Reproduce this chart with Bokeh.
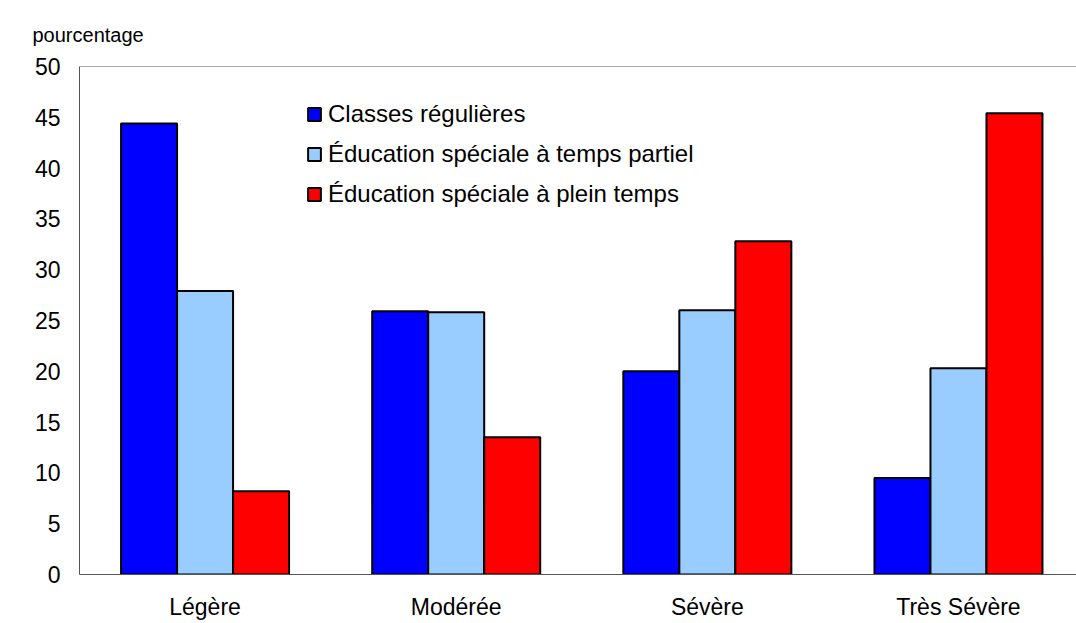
from bokeh.plotting import figure
from bokeh.models import Range1d, FixedTicker, SingleIntervalTicker, Legend, LegendItem, Title, Span
from bokeh.embed import file_html
from bokeh.resources import INLINE

categories = ["Légère", "Modérée", "Sévère", "Très Sévère"]
series_names = ["Classes régulières", "Éducation spéciale à temps partiel", "Éducation spéciale à plein temps"]
classes_regulieres = [44.4, 25.9, 20.0, 9.5]
temps_partiel = [27.9, 25.8, 26.0, 20.3]
plein_temps = [8.2, 13.5, 32.8, 45.4]
colors = ["#0000FF", "#99CCFF", "#FF0000"]
y_label = "pourcentage"
y_max = 50

FONT = "Liberation Sans"

p = figure(width=1076, height=622, output_backend="svg", toolbar_location=None,
           x_range=Range1d(-0.5, 3.47), y_range=Range1d(0, y_max),
           min_border_left=79, min_border_right=0, min_border_top=66, min_border_bottom=44)
p.xgrid.grid_line_color = None
p.ygrid.grid_line_color = None
p.outline_line_color = None
p.background_fill_color = "white"
p.border_fill_color = "white"

bw = 0.223
offsets = [-bw, 0.0, bw]
items = []
for vals, off, col, name in zip([classes_regulieres, temps_partiel, plein_temps], offsets, colors, series_names):
    xs = [i + off for i in range(len(categories))]
    r = p.vbar(x=xs, top=vals, width=bw, bottom=0, fill_color=col, line_color="black", line_width=2)
    items.append(LegendItem(label=name, renderers=[r]))

p.add_layout(Span(location=y_max, dimension="width", line_color="#555555", line_width=1))

legend = Legend(items=items, location=(227, 366), background_fill_alpha=0, border_line_color=None,
                padding=0, margin=0, glyph_width=16, glyph_height=16, label_standoff=6, spacing=12,
                label_text_font=FONT, label_text_font_size="24px", label_text_color="black")
p.add_layout(legend)

p.xaxis.ticker = FixedTicker(ticks=list(range(len(categories))))
p.xaxis.major_label_overrides = {i: c for i, c in enumerate(categories)}
p.yaxis.ticker = SingleIntervalTicker(interval=5)
for ax in (p.xaxis, p.yaxis):
    ax.major_tick_line_color = None
    ax.minor_tick_line_color = None
    ax.major_tick_out = 0
    ax.major_tick_in = 0
    ax.axis_line_color = "#555555"
    ax.major_label_text_font = FONT
    ax.major_label_text_font_size = "23px"
    ax.major_label_text_color = "black"
p.yaxis.major_label_standoff = 15
p.xaxis.major_label_standoff = 19

t = Title(text=y_label, align="left", offset=-47, text_font=FONT, text_font_size="20px",
          text_font_style="normal", text_color="black", standoff=38, vertical_align="top")
p.add_layout(t, "above")

open("out.html", "w").write(file_html(p, INLINE))
